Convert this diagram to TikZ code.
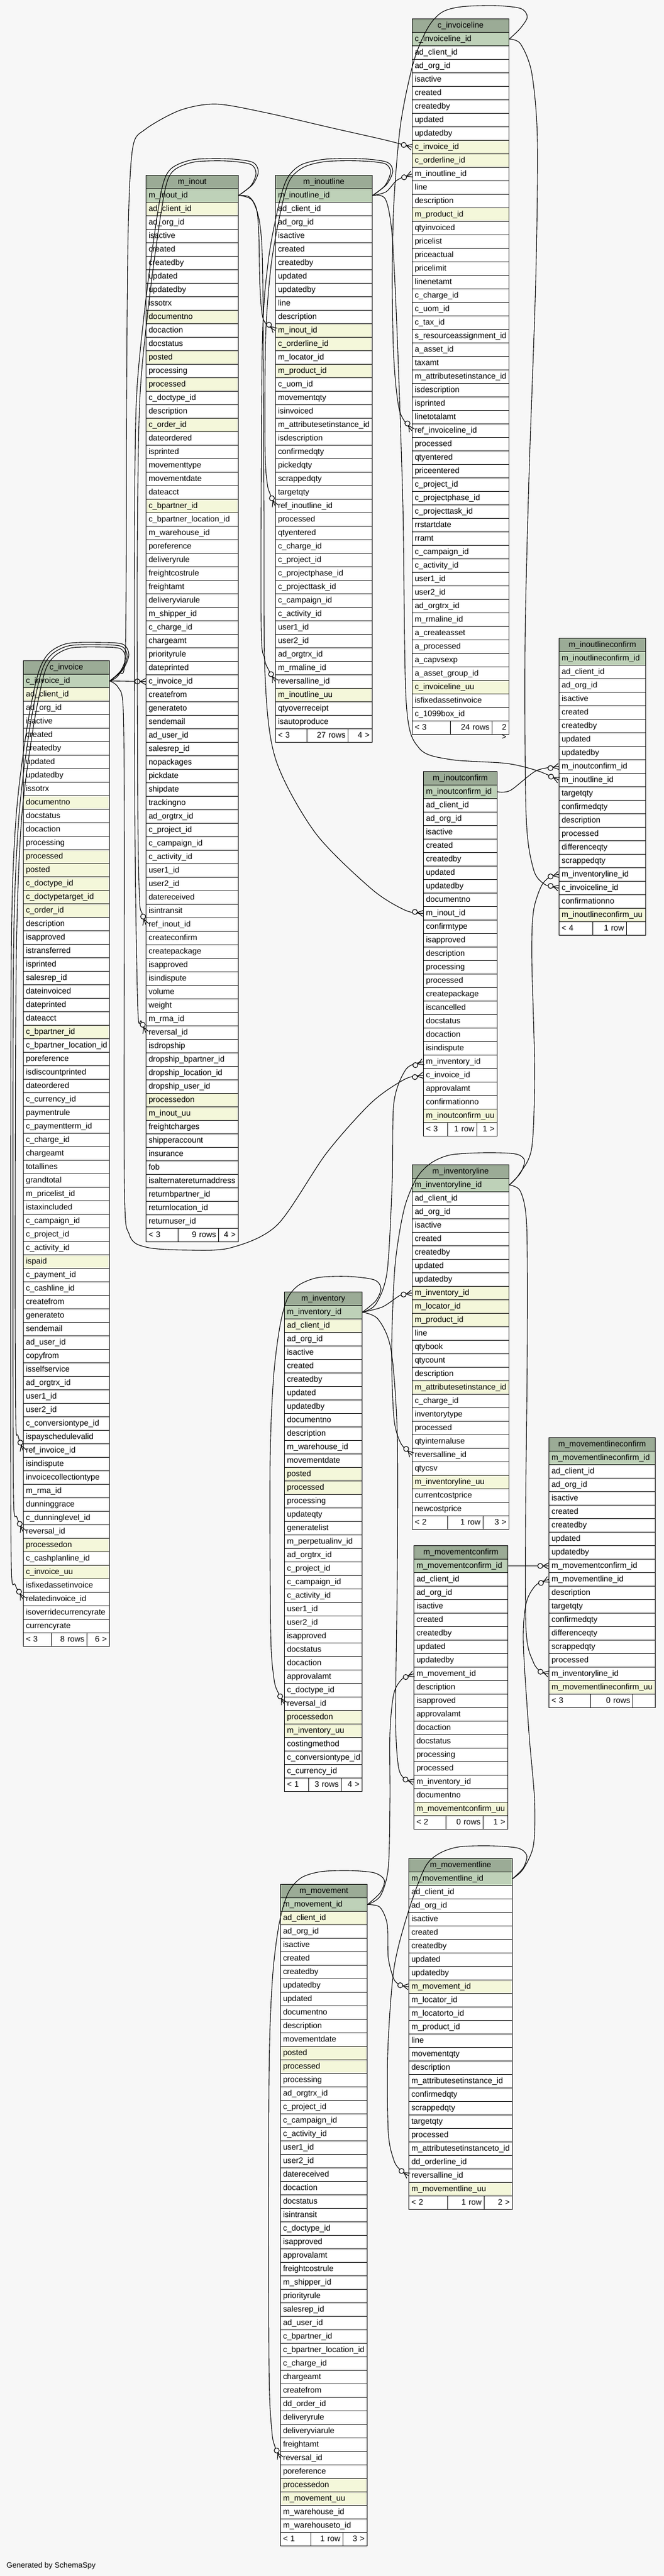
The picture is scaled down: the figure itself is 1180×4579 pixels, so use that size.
\documentclass[tikz,border=0pt]{standalone}
\usepackage{fontspec}
\setmainfont{Liberation Sans}
\usetikzlibrary{calc}
\definecolor{bgc}{HTML}{F7F7F7}
\definecolor{colh}{HTML}{9BAB96}
\definecolor{colp}{HTML}{BED1B8}
\definecolor{coli}{HTML}{F4F7DA}
\definecolor{coln}{HTML}{FFFFFF}
\newcommand\tabfont{\fontsize{14.3}{17}\selectfont}
\tikzset{
  tcell/.style={draw=black, line width=1pt, minimum height=24pt, inner ysep=0pt, inner xsep=4.5pt,
    anchor=north west, text height=10.5pt, text depth=3pt, font=\tabfont},
  fk/.style={line width=1.1pt},
}
\newcommand\dbtable[6]{%
  \pgfmathsetmacro\mytw{#4-9}%
  \node[tcell, fill=colh, minimum width=#4pt, text width=\mytw pt, align=center] (#1) at (#2,#3) {#5};%
  \foreach \rowtext/\rowtype [count=\k] in {#6} {%
    \pgfmathsetmacro\myy{#3+24*\k}%
    \node[tcell, fill=col\rowtype, minimum width=#4pt, text width=\mytw pt, align=left] (#1-\k) at (#2,\myy) {\rowtext};%
    \xdef\lastk{\k}%
  }%
  \xdef\lasty{#3}%
}
\newcommand\dbfoot[8]{%
  \pgfmathsetmacro\myfy{\lasty+24*(\lastk+1)}%
  \pgfmathsetmacro\mywa{#4}\pgfmathsetmacro\myta{#4-9}%
  \pgfmathsetmacro\mywb{#5-#4}\pgfmathsetmacro\mytb{#5-#4-9}%
  \pgfmathsetmacro\mywc{#3-#5}\pgfmathsetmacro\mytc{#3-#5-9}%
  \pgfmathsetmacro\myxb{#2+#4}\pgfmathsetmacro\myxc{#2+#5}%
  \node[tcell, fill=white, minimum width=\mywa pt, text width=\myta pt, align=left] (#1-fa) at (#2,\myfy) {#6};%
  \node[tcell, fill=white, minimum width=\mywb pt, text width=\mytb pt, align=right] (#1-fb) at (\myxb,\myfy) {#7};%
  \node[tcell, fill=white, minimum width=\mywc pt, text width=\mytc pt, align=right] (#1-fc) at (\myxc,\myfy) {#8};%
}
% crow's foot with open circle at the child end
\newcommand\crowend[2]{%
  \draw[line width=1.1pt] ($(#1)!10pt!#2$) -- ($(#1)!5.5pt!90:#2$) ($(#1)!10pt!#2$) -- ($(#1)!5.5pt!-90:#2$);%
  \filldraw[fill=bgc, line width=1.1pt] ($(#1)!15pt!#2$) circle (4.5pt);%
}
% #1 start + intermediate points, #2 penultimate point, #3 end anchor
\newcommand\fkedge[3]{%
  \draw[fk] plot[smooth] coordinates {#1 #2 (#3)};%
  \crowend{#3}{#2}%
}
\begin{document}
\catcode`\_=12
\begin{tikzpicture}[x=1pt,y=-1pt]
\fill[bgc] (0,0) rectangle (1180,4579);
\useasboundingbox (0,0) rectangle (1180,4579);

% c_invoiceline
\dbtable{cinvl}{732}{33}{172}{c_invoiceline}{c_invoiceline_id/p, ad_client_id/n, ad_org_id/n, isactive/n, created/n, createdby/n, updated/n, updatedby/n, c_invoice_id/i, c_orderline_id/i, m_inoutline_id/n, line/n, description/n, m_product_id/i, qtyinvoiced/n, pricelist/n, priceactual/n, pricelimit/n, linenetamt/n, c_charge_id/n, c_uom_id/n, c_tax_id/n, s_resourceassignment_id/n, a_asset_id/n, taxamt/n, m_attributesetinstance_id/n, isdescription/n, isprinted/n, linetotalamt/n, ref_invoiceline_id/n, processed/n, qtyentered/n, priceentered/n, c_project_id/n, c_projectphase_id/n, c_projecttask_id/n, rrstartdate/n, rramt/n, c_campaign_id/n, c_activity_id/n, user1_id/n, user2_id/n, ad_orgtrx_id/n, m_rmaline_id/n, a_createasset/n, a_processed/n, a_capvsexp/n, a_asset_group_id/n, c_invoiceline_uu/i, isfixedassetinvoice/n, c_1099box_id/n}
\dbfoot{cinvl}{732}{172}{68}{142}{< 3}{24 rows}{2 >}

% m_inout
\dbtable{minout}{259}{311}{164}{m_inout}{m_inout_id/p, ad_client_id/i, ad_org_id/n, isactive/n, created/n, createdby/n, updated/n, updatedby/n, issotrx/n, documentno/i, docaction/n, docstatus/n, posted/i, processing/n, processed/i, c_doctype_id/n, description/n, c_order_id/i, dateordered/n, isprinted/n, movementtype/n, movementdate/n, dateacct/n, c_bpartner_id/i, c_bpartner_location_id/n, m_warehouse_id/n, poreference/n, deliveryrule/n, freightcostrule/n, freightamt/n, deliveryviarule/n, m_shipper_id/n, c_charge_id/n, chargeamt/n, priorityrule/n, dateprinted/n, c_invoice_id/n, createfrom/n, generateto/n, sendemail/n, ad_user_id/n, salesrep_id/n, nopackages/n, pickdate/n, shipdate/n, trackingno/n, ad_orgtrx_id/n, c_project_id/n, c_campaign_id/n, c_activity_id/n, user1_id/n, user2_id/n, datereceived/n, isintransit/n, ref_inout_id/n, createconfirm/n, createpackage/n, isapproved/n, isindispute/n, volume/n, weight/n, m_rma_id/n, reversal_id/n, isdropship/n, dropship_bpartner_id/n, dropship_location_id/n, dropship_user_id/n, processedon/i, m_inout_uu/i, freightcharges/n, shipperaccount/n, insurance/n, fob/n, isalternatereturnaddress/n, returnbpartner_id/n, returnlocation_id/n, returnuser_id/n}
\dbfoot{minout}{259}{164}{57}{129}{< 3}{9 rows}{4 >}

% m_inoutline
\dbtable{minoutl}{489}{311}{172}{m_inoutline}{m_inoutline_id/p, ad_client_id/n, ad_org_id/n, isactive/n, created/n, createdby/n, updated/n, updatedby/n, line/n, description/n, m_inout_id/i, c_orderline_id/i, m_locator_id/n, m_product_id/i, c_uom_id/n, movementqty/n, isinvoiced/n, m_attributesetinstance_id/n, isdescription/n, confirmedqty/n, pickedqty/n, scrappedqty/n, targetqty/n, ref_inoutline_id/n, processed/n, qtyentered/n, c_charge_id/n, c_project_id/n, c_projectphase_id/n, c_projecttask_id/n, c_campaign_id/n, c_activity_id/n, user1_id/n, user2_id/n, ad_orgtrx_id/n, m_rmaline_id/n, reversalline_id/n, m_inoutline_uu/i, qtyoverreceipt/n, isautoproduce/n}
\dbfoot{minoutl}{489}{172}{56}{129}{< 3}{27 rows}{4 >}

% c_invoice
\dbtable{cinv}{41}{1174}{153}{c_invoice}{c_invoice_id/p, ad_client_id/i, ad_org_id/n, isactive/n, created/n, createdby/n, updated/n, updatedby/n, issotrx/n, documentno/i, docstatus/n, docaction/n, processing/n, processed/i, posted/i, c_doctype_id/i, c_doctypetarget_id/i, c_order_id/i, description/n, isapproved/n, istransferred/n, isprinted/n, salesrep_id/n, dateinvoiced/n, dateprinted/n, dateacct/n, c_bpartner_id/i, c_bpartner_location_id/n, poreference/n, isdiscountprinted/n, dateordered/n, c_currency_id/n, paymentrule/n, c_paymentterm_id/n, c_charge_id/n, chargeamt/n, totallines/n, grandtotal/n, m_pricelist_id/n, istaxincluded/n, c_campaign_id/n, c_project_id/n, c_activity_id/n, ispaid/i, c_payment_id/n, c_cashline_id/n, createfrom/n, generateto/n, sendemail/n, ad_user_id/n, copyfrom/n, isselfservice/n, ad_orgtrx_id/n, user1_id/n, user2_id/n, c_conversiontype_id/n, ispayschedulevalid/n, ref_invoice_id/n, isindispute/n, invoicecollectiontype/n, m_rma_id/n, dunninggrace/n, c_dunninglevel_id/n, reversal_id/n, processedon/i, c_cashplanline_id/n, c_invoice_uu/i, isfixedassetinvoice/n, relatedinvoice_id/n, isoverridecurrencyrate/n, currencyrate/n}
\dbfoot{cinv}{41}{153}{50}{113}{< 3}{8 rows}{6 >}

% m_inoutlineconfirm
\dbtable{miolc}{993}{1134}{154}{m_inoutlineconfirm}{m_inoutlineconfirm_id/p, ad_client_id/n, ad_org_id/n, isactive/n, created/n, createdby/n, updated/n, updatedby/n, m_inoutconfirm_id/n, m_inoutline_id/n, targetqty/n, confirmedqty/n, description/n, processed/n, differenceqty/n, scrappedqty/n, m_inventoryline_id/n, c_invoiceline_id/n, confirmationno/n, m_inoutlineconfirm_uu/i}
\dbfoot{miolc}{993}{154}{60}{120}{< 4}{1 row}{}

% m_inoutconfirm
\dbtable{mioc}{752}{1371}{131}{m_inoutconfirm}{m_inoutconfirm_id/p, ad_client_id/n, ad_org_id/n, isactive/n, created/n, createdby/n, updated/n, updatedby/n, documentno/n, m_inout_id/n, confirmtype/n, isapproved/n, description/n, processing/n, processed/n, createpackage/n, iscancelled/n, docstatus/n, docaction/n, isindispute/n, m_inventory_id/n, c_invoice_id/n, approvalamt/n, confirmationno/n, m_inoutconfirm_uu/i}
\dbfoot{mioc}{752}{131}{43}{95}{< 3}{1 row}{1 >}

% m_inventoryline
\dbtable{minvl}{732}{2070}{172}{m_inventoryline}{m_inventoryline_id/p, ad_client_id/n, ad_org_id/n, isactive/n, created/n, createdby/n, updated/n, updatedby/n, m_inventory_id/i, m_locator_id/i, m_product_id/i, line/n, qtybook/n, qtycount/n, description/n, m_attributesetinstance_id/i, c_charge_id/n, inventorytype/n, processed/n, qtyinternaluse/n, reversalline_id/n, qtycsv/n, m_inventoryline_uu/i, currentcostprice/n, newcostprice/n}
\dbfoot{minvl}{732}{172}{63}{126}{< 2}{1 row}{3 >}

% m_inventory
\dbtable{minv}{505}{2296}{138}{m_inventory}{m_inventory_id/p, ad_client_id/i, ad_org_id/n, isactive/n, created/n, createdby/n, updated/n, updatedby/n, documentno/n, description/n, m_warehouse_id/n, movementdate/n, posted/i, processed/i, processing/n, updateqty/n, generatelist/n, m_perpetualinv_id/n, ad_orgtrx_id/n, c_project_id/n, c_campaign_id/n, c_activity_id/n, user1_id/n, user2_id/n, isapproved/n, docstatus/n, docaction/n, approvalamt/n, c_doctype_id/n, reversal_id/n, processedon/i, m_inventory_uu/i, costingmethod/n, c_conversiontype_id/n, c_currency_id/n}
\dbfoot{minv}{505}{138}{43}{101}{< 1}{3 rows}{4 >}

% m_movementlineconfirm
\dbtable{mmlc}{975}{2555}{189}{m_movementlineconfirm}{m_movementlineconfirm_id/p, ad_client_id/n, ad_org_id/n, isactive/n, created/n, createdby/n, updated/n, updatedby/n, m_movementconfirm_id/n, m_movementline_id/n, description/n, targetqty/n, confirmedqty/n, differenceqty/n, scrappedqty/n, processed/n, m_inventoryline_id/n, m_movementlineconfirm_uu/i}
\dbfoot{mmlc}{975}{189}{74}{149}{< 3}{0 rows}{}

% m_movementconfirm
\dbtable{mmc}{735}{2747}{167}{m_movementconfirm}{m_movementconfirm_id/p, ad_client_id/n, ad_org_id/n, isactive/n, created/n, createdby/n, updated/n, updatedby/n, m_movement_id/n, description/n, isapproved/n, approvalamt/n, docaction/n, docstatus/n, processing/n, processed/n, m_inventory_id/n, documentno/n, m_movementconfirm_uu/i}
\dbfoot{mmc}{735}{167}{57}{123}{< 2}{0 rows}{1 >}

% m_movementline
\dbtable{mml}{726}{3303}{184}{m_movementline}{m_movementline_id/p, ad_client_id/n, ad_org_id/n, isactive/n, created/n, createdby/n, updated/n, updatedby/n, m_movement_id/i, m_locator_id/n, m_locatorto_id/n, m_product_id/n, line/n, movementqty/n, description/n, m_attributesetinstance_id/n, confirmedqty/n, scrappedqty/n, targetqty/n, processed/n, m_attributesetinstanceto_id/n, dd_orderline_id/n, reversalline_id/n, m_movementline_uu/i}
\dbfoot{mml}{726}{184}{69}{134}{< 2}{1 row}{2 >}

% m_movement
\dbtable{mm}{498}{3349}{154}{m_movement}{m_movement_id/p, ad_client_id/i, ad_org_id/n, isactive/n, created/n, createdby/n, updatedby/n, updated/n, documentno/n, description/n, movementdate/n, posted/i, processed/i, processing/n, ad_orgtrx_id/n, c_project_id/n, c_campaign_id/n, c_activity_id/n, user1_id/n, user2_id/n, datereceived/n, docaction/n, docstatus/n, isintransit/n, c_doctype_id/n, isapproved/n, approvalamt/n, freightcostrule/n, m_shipper_id/n, priorityrule/n, salesrep_id/n, ad_user_id/n, c_bpartner_id/n, c_bpartner_location_id/n, c_charge_id/n, chargeamt/n, createfrom/n, dd_order_id/n, deliveryrule/n, deliveryviarule/n, freightamt/n, reversal_id/n, poreference/n, processedon/i, m_movement_uu/i, m_warehouse_id/n, m_warehouseto_id/n}
\dbfoot{mm}{498}{154}{54}{111}{< 1}{1 row}{3 >}

\node[anchor=west, font=\fontsize{13.5}{16}\selectfont] (gen) at (8,4561) {Generated by SchemaSpy};

% ---------- connectors ----------
% c_invoice
\draw[fk] (cinv-1.east) -- (minout-37.west); \crowend{minout-37.west}{(cinv-1.east)}
\fkedge{(cinv-1.east) (212,1198) (223,1150) (225,700) (228,400) (236,262) (258,230) (320,196) (384,185) (471,200) (588,227)}{(685,249)}{cinvl-9.west}
\fkedge{(cinv-1.east) (210,1222) (219,1262) (221,1500) (221,2100) (230,2195) (260,2217) (330,2222) (410,2218) (493,2177) (580,2050) (660,1960)}{(720,1918)}{mioc-22.west}
\fkedge{(cinv-1.east) (214,1193) (223,1170) (214,1153) (175,1150) (125,1152) (95,1168) (78,1200) (58,1300) (38,1460) (29,1700) (27,2200) (28,2520)}{(32,2552)}{cinv-58.west}
\fkedge{(cinv-1.east) (216,1192) (226,1167) (216,1149) (175,1146) (122,1148) (90,1165) (72,1200) (52,1300) (33,1460) (24,1700) (23,2300) (24,2660)}{(30,2697)}{cinv-64.west}
\fkedge{(cinv-1.east) (218,1191) (229,1164) (218,1145) (175,1142) (119,1144) (86,1162) (67,1200) (47,1300) (28,1460) (20,1700) (19,2400) (20,2780)}{(27,2817)}{cinv-69.west}
% c_invoiceline
\fkedge{(cinvl-1.east) (925,50) (937,30) (925,15) (880,10) (820,12) (785,22) (760,50) (735,110) (712,220) (700,360) (697,500) (700,640)}{(710,730)}{cinvl-30.west}
\fkedge{(cinvl-1.east) (925,78) (945,130) (955,250) (952,500) (940,850) (933,1150) (935,1450) (948,1545)}{(968,1572)}{miolc-18.west}
% m_inout
\fkedge{(minout-1.east) (443,350) (456,372) (460,420) (462,510)}{(468,568)}{minoutl-11.west}
\fkedge{(minout-1.east) (448,356) (462,400) (467,500) (469,900) (471,1200) (490,1350) (560,1480) (660,1580)}{(720,1618)}{mioc-10.west}
\fkedge{(minout-1.east) (446,330) (455,308) (445,292) (400,286) (345,288) (310,302) (295,330) (280,420) (262,560) (248,720) (244,1000) (245,1450) (248,1600)}{(252,1622)}{minout-55.west}
\fkedge{(minout-1.east) (449,328) (459,305) (448,288) (400,282) (342,284) (305,299) (289,330) (274,420) (256,560) (242,720) (239,1000) (240,1500) (245,1795)}{(251,1815)}{minout-63.west}
% m_inoutline
\fkedge{(minoutl-1.east) (686,341)}{(706,320)}{cinvl-11.west}
\fkedge{(minoutl-1.east) (685,354) (697,420) (706,600) (716,900) (722,1250) (745,1330) (800,1350) (900,1357)}{(955,1370)}{miolc-10.west}
\fkedge{(minoutl-1.east) (684,330) (694,306) (684,291) (640,286) (580,287) (540,297) (515,320) (500,370) (482,470) (472,600) (471,800) (475,860)}{(480,878)}{minoutl-24.west}
\fkedge{(minoutl-1.east) (687,328) (698,304) (687,288) (640,282) (578,283) (535,293) (510,318) (494,370) (476,470) (466,620) (464,1100) (470,1170)}{(477,1190)}{minoutl-37.west}
% m_inoutconfirm
\fkedge{(mioc-1.east) (907,1405)}{(953,1370)}{miolc-9.west}
% m_inventory
\fkedge{(minv-1.east) (668,2318) (688,2260) (697,2100) (700,1960)}{(722,1900)}{mioc-21.west}
\fkedge{(minv-1.east) (680,2323)}{(712,2302)}{minvl-9.west}
\fkedge{(minv-1.east) (672,2345) (695,2400) (706,2550) (706,2800) (703,3050) (708,3140)}{(720,3163)}{mmc-17.west}
\fkedge{(minv-1.east) (668,2312) (677,2290) (665,2275) (620,2269) (565,2271) (530,2285) (510,2310) (497,2360) (486,2450) (480,2600) (481,2900) (487,2985)}{(495,3010)}{minv-30.west}
% m_inventoryline
\fkedge{(minvl-1.east) (922,2088) (945,2040) (950,1900) (945,1700) (948,1620) (962,1575)}{(978,1558)}{miolc-17.west}
\fkedge{(minvl-1.east) (925,2085) (932,2062) (915,2051) (860,2049) (800,2053) (765,2068) (740,2095) (718,2150) (702,2250) (696,2400) (700,2520)}{(712,2565)}{minvl-21.west}
\fkedge{(minvl-1.east) (925,2118) (936,2180) (937,2400) (934,2700) (935,2900) (948,2955)}{(962,2972)}{mmlc-17.west}
% m_movementconfirm
\draw[fk] (mmc-1.east) -- (mmlc-9.west); \crowend{mmlc-9.west}{(mmc-1.east)}
% m_movementline
\fkedge{(mml-1.east) (930,3322) (948,3280) (950,3200) (940,3080) (930,2920) (935,2850)}{(952,2818)}{mmlc-10.west}
\fkedge{(mml-1.east) (930,3320) (936,3298) (920,3285) (870,3281) (815,3283) (780,3295) (755,3320) (725,3400) (700,3500) (689,3650) (690,3790) (700,3840)}{(712,3858)}{mml-23.west}
% m_movement
\fkedge{(mm-1.east) (675,3390) (688,3420) (690,3480) (700,3518)}{(712,3529)}{mml-9.west}
\fkedge{(mm-1.east) (676,3370) (690,3320) (693,3200) (693,3080) (700,3010)}{(716,2983)}{mmc-9.west}
\fkedge{(mm-1.east) (676,3364) (683,3342) (665,3329) (620,3325) (570,3327) (535,3338) (512,3365) (496,3420) (484,3520) (478,3700) (478,4200) (483,4320)}{(489,4350)}{mm-42.west}
\end{tikzpicture}
\end{document}
